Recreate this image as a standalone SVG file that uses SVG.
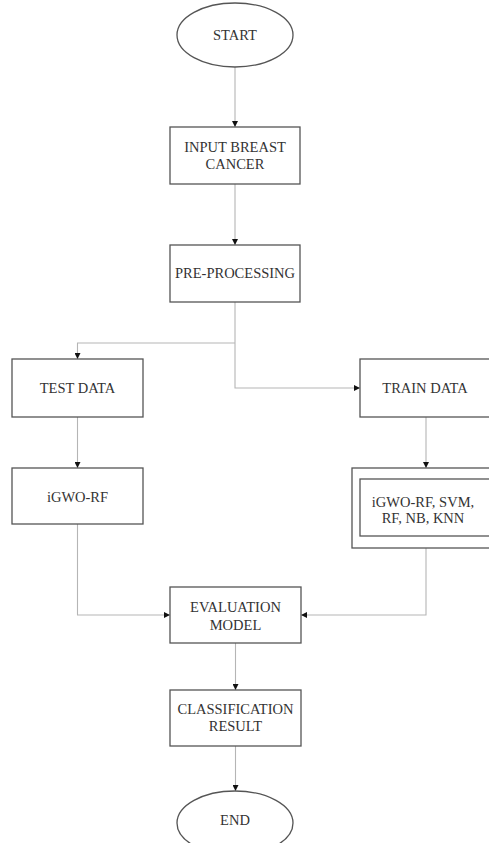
<svg xmlns="http://www.w3.org/2000/svg" width="489" height="843" viewBox="0 0 489 843">
<defs>
<style>
.box{fill:#fff;stroke:#555;stroke-width:1.3}
.t{font-family:"Liberation Serif","Times New Roman",serif;font-size:14.5px;fill:#333;text-anchor:middle}
.c{fill:none;stroke:#b5b5b5;stroke-width:1.1}
</style>
<marker id="ah" viewBox="0 0 10 10" refX="10" refY="5" markerWidth="6" markerHeight="6" orient="auto" markerUnits="userSpaceOnUse">
<path d="M0,0 L10,5 L0,10 z" fill="#111"/>
</marker>
</defs>
<rect width="489" height="843" fill="#fff"/>
<g id="connectors">
<path class="c" d="M235,67 V127" marker-end="url(#ah)"/>
<path class="c" d="M235,184 V245" marker-end="url(#ah)"/>
<path class="c" d="M235,302 V388 H360" marker-end="url(#ah)"/>
<path class="c" d="M235,343 H77.5 V359" marker-end="url(#ah)"/>
<path class="c" d="M77.5,417 V468" marker-end="url(#ah)"/>
<path class="c" d="M426,417 V468" marker-end="url(#ah)"/>
<path class="c" d="M77.5,524 V615 H170" marker-end="url(#ah)"/>
<path class="c" d="M426,548 V615 H301" marker-end="url(#ah)"/>
<path class="c" d="M235.5,643 V690" marker-end="url(#ah)"/>
<path class="c" d="M235.5,746 V791" marker-end="url(#ah)"/>
</g>
<g id="start">
<ellipse class="box" cx="235" cy="35" rx="58" ry="32"/>
<text class="t" x="235" y="40">START</text>
</g>
<g id="input">
<rect class="box" x="170" y="127" width="130" height="57"/>
<text class="t" x="235" y="152">INPUT BREAST</text>
<text class="t" x="235" y="169">CANCER</text>
</g>
<g id="preprocessing">
<rect class="box" x="170" y="245" width="130" height="57"/>
<text class="t" x="235" y="278">PRE-PROCESSING</text>
</g>
<g id="testdata">
<rect class="box" x="12" y="359" width="131" height="58"/>
<text class="t" x="77.5" y="393">TEST DATA</text>
</g>
<g id="traindata">
<rect class="box" x="360" y="359" width="131" height="58"/>
<text class="t" x="425" y="393">TRAIN DATA</text>
</g>
<g id="igworf">
<rect class="box" x="12" y="468" width="131" height="56"/>
<text class="t" x="77.5" y="502">iGWO-RF</text>
</g>
<g id="models">
<rect class="box" x="352" y="468" width="142" height="80"/>
<rect class="box" x="360" y="479" width="134" height="57"/>
<text class="t" x="423" y="507">iGWO-RF, SVM,</text>
<text class="t" x="423" y="523">RF, NB, KNN</text>
</g>
<g id="evaluation">
<rect class="box" x="170" y="587" width="131" height="56"/>
<text class="t" x="235.5" y="612">EVALUATION</text>
<text class="t" x="235.5" y="630">MODEL</text>
</g>
<g id="classification">
<rect class="box" x="170" y="690" width="131" height="56"/>
<text class="t" x="235.5" y="714">CLASSIFICATION</text>
<text class="t" x="235.5" y="731">RESULT</text>
</g>
<g id="end">
<ellipse class="box" cx="235" cy="823" rx="58" ry="32"/>
<text class="t" x="235" y="825">END</text>
</g>
</svg>
